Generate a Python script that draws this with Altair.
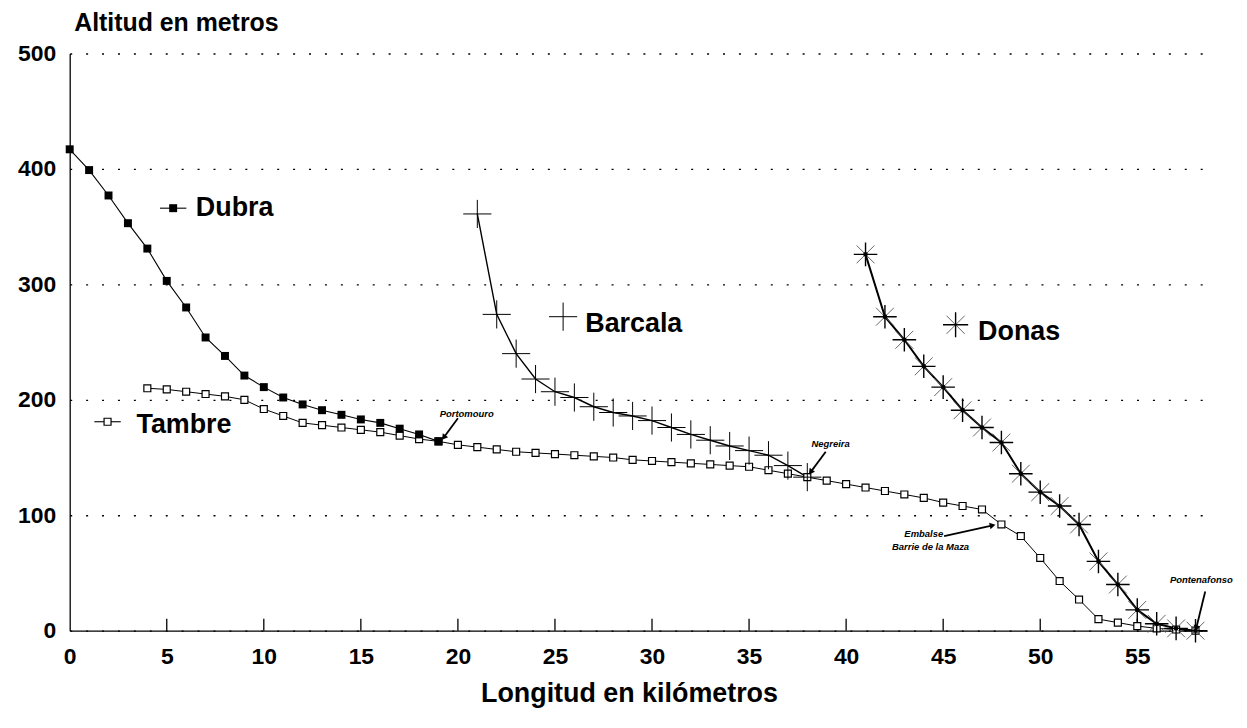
import math
import altair as alt
import pandas as pd

# ---------------- data ----------------
dubra_km = list(range(0, 20))
dubra_alt = [417, 399, 377, 353, 331, 303, 280, 254, 238, 221,
             211, 202, 196, 191, 187, 183, 180, 175, 170, 164]

tambre_km = list(range(4, 59))
tambre_alt = [210, 209, 207, 205, 203, 200,
              192, 186, 180, 178, 176, 174, 172, 169, 166, 164,
              161, 159, 157, 155, 154, 153, 152, 151, 150, 148,
              147, 146, 145, 144, 143, 142, 139, 136, 133, 130,
              127, 124, 121, 118, 115, 111, 108, 105, 92, 82,
              63, 43, 27, 10, 7, 4, 2, 1, 0]

barcala_km = list(range(21, 39))
barcala_alt = [361, 274, 240, 218, 207, 202, 194, 189, 186, 182,
               176, 170, 165, 160, 156, 152, 143, 133]

donas_km = list(range(41, 59))
donas_alt = [326, 272, 252, 229, 211, 191, 176, 163, 136, 120,
             108, 92, 60, 40, 18, 6, 2, 0]

x_ticks = [0, 5, 10, 15, 20, 25, 30, 35, 40, 45, 50, 55]
y_ticks = [0, 100, 200, 300, 400, 500]

# inline legend labels (data coordinates)
legend_names = ["Dubra", "Tambre", "Barcala", "Donas"]
legend_sym_x = [5.33, 1.95, 25.42, 45.64]
legend_sym_y = [366, 181, 272, 265]
legend_txt_x = [6.5, 3.44, 26.56, 46.8]
legend_txt_y = [366, 178, 266, 259]

# place-name annotations
place_names = ["Portomouro", "Negreira", "Embalse", "Barrie de la Maza", "Pontenafonso"]
place_x = [20.45, 39.2, 44.0, 44.35, 58.3]
place_y = [188, 162, 84, 72.5, 44]
arrow_x0 = [20.0, 38.95, 45.05, 58.5]
arrow_y0 = [184, 155, 82, 34]
arrow_x1 = [19.3, 38.2, 47.5, 58.05]
arrow_y1 = [168, 138, 91, 3]

# ---------------- geometry / style ----------------
W, H = 1143, 580
XMAX = 58.6
PX_X = W / XMAX
PX_Y = H / 500.0
FONT = "Liberation Sans"

xs = alt.Scale(domain=[0, XMAX], nice=False, zero=False)
ys = alt.Scale(domain=[0, 500], nice=False)

def frame(km, alt_vals):
    return pd.DataFrame({"km": km, "alt": alt_vals})

dub = frame(dubra_km, dubra_alt)
tam = frame(tambre_km, tambre_alt)
bar = frame(barcala_km, barcala_alt)
don = frame(donas_km, donas_alt)

X = alt.X("km:Q", scale=xs, axis=alt.Axis(
    values=x_ticks, grid=False, ticks=False, tickSize=0, domainColor="black",
    domainWidth=1.3, labelFont=FONT, labelFontSize=23, labelFontWeight="bold",
    labelColor="black", labelPadding=15, labelFlush=False,
    title="Longitud en kilómetros", titleFont=FONT, titleFontSize=27,
    titleFontWeight="bold", titleColor="black", titleX=562, titleY=71,
    titleAlign="center", titleBaseline="alphabetic"))
Y = alt.Y("alt:Q", scale=ys, axis=alt.Axis(
    values=y_ticks, grid=True, gridColor="black", gridDash=[2, 14], gridWidth=1.3,
    ticks=False, tickSize=0, domainColor="black", domainWidth=1.3,
    labelFont=FONT, labelFontSize=23, labelFontWeight="bold", labelColor="black",
    labelPadding=14,
    title="Altitud en metros", titleFont=FONT, titleFontSize=25,
    titleFontWeight="bold", titleColor="black", titleAngle=0, titleAlign="left",
    titleBaseline="alphabetic", titleX=4, titleY=-23))

def xq():
    return alt.X("km:Q", scale=xs)

def yq():
    return alt.Y("alt:Q", scale=ys)

# axis frame with grid (invisible point layer carrying the axes)
base = alt.Chart(tam).mark_point(opacity=0).encode(x=X, y=Y)

lines = [
    alt.Chart(tam).mark_line(color="black", strokeWidth=1).encode(x=xq(), y=yq()),
    alt.Chart(dub).mark_line(color="black", strokeWidth=1.1).encode(x=xq(), y=yq()),
    alt.Chart(bar).mark_line(color="black", strokeWidth=1.4).encode(x=xq(), y=yq()),
    alt.Chart(don).mark_line(color="black", strokeWidth=2).encode(x=xq(), y=yq()),
]

PLUS = "M-1,0L1,0M0,-1L0,1"
XCROSS = "M-0.72,-0.72L0.72,0.72M-0.72,0.72L0.72,-0.72"

tam_pts = alt.Chart(tam).mark_point(shape="square", size=49, filled=True, fill="white",
                                    stroke="black", strokeWidth=1.2, opacity=1).encode(x=xq(), y=yq())
dub_pts = alt.Chart(dub).mark_point(shape="square", size=64, filled=True, color="black",
                                    opacity=1).encode(x=xq(), y=yq())
bar_pts = alt.Chart(bar).mark_point(shape=PLUS, size=800, filled=False, stroke="black",
                                    strokeWidth=1, opacity=1).encode(x=xq(), y=yq())
don_plus = alt.Chart(don).mark_point(shape=PLUS, size=560, filled=False, stroke="black",
                                     strokeWidth=1.4, opacity=1).encode(x=xq(), y=yq())
don_x = alt.Chart(don).mark_point(shape=XCROSS, size=620, filled=False, stroke="#555555",
                                  strokeWidth=0.9, opacity=1).encode(x=xq(), y=yq())
don_dot = alt.Chart(don).mark_point(shape="circle", size=22, filled=True, color="black",
                                    opacity=1).encode(x=xq(), y=yq())

# x-axis inner ticks
tick_df = pd.DataFrame({"km": x_ticks[1:]})
ticks = alt.Chart(tick_df).mark_rule(color="black", strokeWidth=1.3).encode(
    x=xq(), y=alt.value(H), y2=alt.value(H - 12))

# inline legends
leg = pd.DataFrame({"name": legend_names, "sx": legend_sym_x, "sy": legend_sym_y,
                    "tx": legend_txt_x, "ty": legend_txt_y})
leg_seg = leg[leg["name"].isin(["Dubra", "Tambre"])].copy()
leg_seg["x0"] = leg_seg["sx"] - 0.68
leg_seg["x1"] = leg_seg["sx"] + 0.68
leg_lines = alt.Chart(leg_seg).mark_rule(color="black", strokeWidth=1.1).encode(
    x=alt.X("x0:Q", scale=xs), x2="x1:Q", y=alt.Y("sy:Q", scale=ys))
leg_dub = alt.Chart(leg[leg["name"] == "Dubra"]).mark_point(
    shape="square", size=64, filled=True, color="black", opacity=1).encode(
    x=alt.X("sx:Q", scale=xs), y=alt.Y("sy:Q", scale=ys))
leg_tam = alt.Chart(leg[leg["name"] == "Tambre"]).mark_point(
    shape="square", size=49, filled=True, fill="white", stroke="black", strokeWidth=1.2,
    opacity=1).encode(x=alt.X("sx:Q", scale=xs), y=alt.Y("sy:Q", scale=ys))
leg_bar = alt.Chart(leg[leg["name"] == "Barcala"]).mark_point(
    shape=PLUS, size=800, filled=False, stroke="black", strokeWidth=1, opacity=1).encode(
    x=alt.X("sx:Q", scale=xs), y=alt.Y("sy:Q", scale=ys))
leg_don1 = alt.Chart(leg[leg["name"] == "Donas"]).mark_point(
    shape=PLUS, size=640, filled=False, stroke="black", strokeWidth=1.4, opacity=1).encode(
    x=alt.X("sx:Q", scale=xs), y=alt.Y("sy:Q", scale=ys))
leg_don2 = alt.Chart(leg[leg["name"] == "Donas"]).mark_point(
    shape=XCROSS, size=640, filled=False, stroke="#555555", strokeWidth=0.9, opacity=1).encode(
    x=alt.X("sx:Q", scale=xs), y=alt.Y("sy:Q", scale=ys))
leg_text = alt.Chart(leg).mark_text(align="left", baseline="middle", font=FONT,
                                    fontWeight="bold", fontSize=27, color="black").encode(
    x=alt.X("tx:Q", scale=xs), y=alt.Y("ty:Q", scale=ys), text="name:N")

# place annotations
pl = pd.DataFrame({"name": place_names, "x": place_x, "y": place_y})
place_text = alt.Chart(pl).mark_text(align="center", baseline="middle", font=FONT,
                                     fontStyle="italic", fontWeight="bold", fontSize=9.5,
                                     color="black").encode(
    x=alt.X("x:Q", scale=xs), y=alt.Y("y:Q", scale=ys), text="name:N")

ar = pd.DataFrame({"x0": arrow_x0, "y0": arrow_y0, "x1": arrow_x1, "y1": arrow_y1})
ar["ang"] = [
    (math.degrees(math.atan2((b - a) * PX_X, (d - c) * PX_Y)) + 360) % 360
    for a, b, c, d in zip(ar["x0"], ar["x1"], ar["y0"], ar["y1"])
]
arrow_lines = alt.Chart(ar).mark_rule(color="black", strokeWidth=1.8).encode(
    x=alt.X("x0:Q", scale=xs), x2="x1:Q", y=alt.Y("y0:Q", scale=ys), y2="y1:Q")
arrow_heads = alt.Chart(ar).mark_point(shape="triangle", size=45, filled=True,
                                       color="black", opacity=1).encode(
    x=alt.X("x1:Q", scale=xs), y=alt.Y("y1:Q", scale=ys),
    angle=alt.Angle("ang:Q", scale=None))

chart = alt.layer(
    base, *lines, ticks, tam_pts, dub_pts, bar_pts, don_x, don_plus, don_dot,
    leg_lines, leg_dub, leg_tam, leg_bar, leg_don2, leg_don1, leg_text,
    arrow_lines, arrow_heads, place_text,
).properties(
    width=W, height=H,
    padding={"left": 62, "top": 44, "right": 32, "bottom": 80},
    autosize=alt.AutoSizeParams(type="none"),
    background="white",
).configure_view(stroke=None)

chart.save("out.html", embed_options={"renderer": "svg", "actions": False})
